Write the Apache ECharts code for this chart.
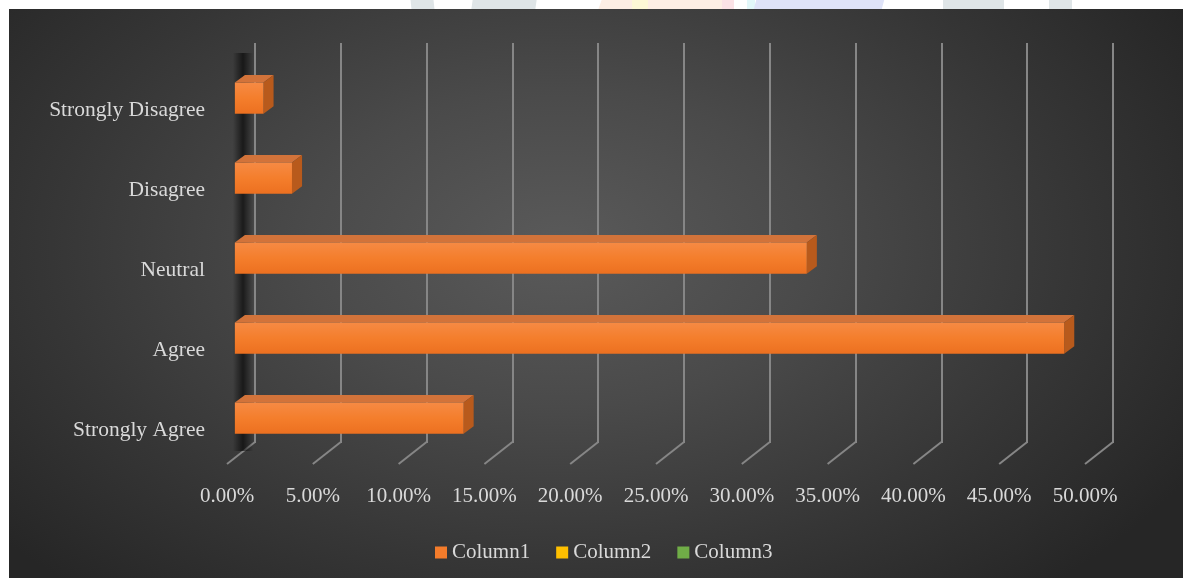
<!DOCTYPE html>
<html>
<head>
<meta charset="utf-8">
<title>Survey responses</title>
<script src="https://cdn.jsdelivr.net/npm/echarts@6/dist/echarts.min.js"></script>
<style>
  html, body { margin: 0; padding: 0; background: #ffffff; overflow: hidden; }
  #page { position: relative; width: 1183px; height: 578px; }
  .strip { position: absolute; top: 0; height: 9px; }
  #chart {
    position: absolute; left: 9px; top: 9px; width: 1174px; height: 569px;
    background: radial-gradient(ellipse 62% 80% at 47% 42%, #5a5a5a 0%, #4a4a4a 35%, #363636 70%, #262626 100%);
  }
</style>
</head>
<body>
<div id="page">
  <!-- faint header decoration -->
  <div class="strip" style="left:411px;width:23px;background:#dfe5e7;transform:skewX(6deg)"></div>
  <div class="strip" style="left:472px;width:64px;background:#dfe5e7;transform:skewX(-8deg)"></div>
  <div class="strip" style="left:600px;width:130px;background:#fdeee4;transform:skewX(-20deg)"></div>
  <div class="strip" style="left:632px;width:16px;background:#fdf8d6"></div>
  <div class="strip" style="left:722px;width:12px;background:#fbe2e6"></div>
  <div class="strip" style="left:747px;width:8px;background:#e2f7f9"></div>
  <div class="strip" style="left:755px;width:128px;background:#dfe3f8;transform:skewX(-15deg)"></div>
  <div class="strip" style="left:943px;width:61px;background:#dfe5e7"></div>
  <div class="strip" style="left:1049px;width:23px;background:#dfe5e7"></div>
  <div id="chart"></div>
</div>
<script>
// Response categories, bottom to top
const categories = ['Strongly Agree', 'Agree', 'Neutral', 'Disagree', 'Strongly Disagree'];
// Share of respondents (%)
const column1 = [13.33, 48.33, 33.33, 3.33, 1.67];
const column2 = [];
const column3 = [];
// Percentage axis ticks
const xTicks = [0, 5, 10, 15, 20, 25, 30, 35, 40, 45, 50];

const seriesNames = ['Column1', 'Column2', 'Column3'];
const seriesColors = ['#f47c2b', '#ffc000', '#70ad47'];

const FONT = 'Liberation Serif';
const TEXT = '#d9d9d9';
const GRIDLINE = '#868686';

// oblique depth of the floor (back wall -> front edge)
const DEPTH_X = -28, DEPTH_Y = 21;
// bar sits between these depth fractions
const BAR_FRONT = 0.72, BAR_BACK = 0.36;

const chart = echarts.init(document.getElementById('chart'), null, { renderer: 'canvas' });

function renderBar(params, api) {
  const v = api.value(0);
  const i = api.value(1);
  const a = api.coord([0, i]);
  const b = api.coord([v, i]);
  const h = api.size([0, 1])[1] * 0.39 / 2;
  const fx = DEPTH_X * BAR_FRONT, fy = DEPTH_Y * BAR_FRONT;
  const bx = DEPTH_X * BAR_BACK, by = DEPTH_Y * BAR_BACK;
  const yc = a[1];
  const children = [];
  if (params.dataIndex === 0) {
    // soft shadow cast along the base wall
    const cs = params.coordSys;
    children.push({
      type: 'rect', z2: -5,
      shape: { x: a[0] - 22, y: cs.y + 10, width: 20, height: cs.height - 2 },
      style: {
        fill: new echarts.graphic.LinearGradient(0, 0, 1, 0, [
          { offset: 0, color: 'rgba(0,0,0,0)' },
          { offset: 0.5, color: 'rgba(0,0,0,0.6)' },
          { offset: 1, color: 'rgba(0,0,0,0)' }
        ])
      }
    });
  }
  children.push({
    type: 'polygon',
    shape: { points: [
      [a[0] + fx, yc + fy - h], [b[0] + fx, yc + fy - h],
      [b[0] + bx, yc + by - h], [a[0] + bx, yc + by - h]
    ] },
    style: { fill: '#d2733a' }
  });
  children.push({
    type: 'polygon',
    shape: { points: [
      [b[0] + fx, yc + fy - h], [b[0] + bx, yc + by - h],
      [b[0] + bx, yc + by + h], [b[0] + fx, yc + fy + h]
    ] },
    style: { fill: '#b85a1c' }
  });
  children.push({
    type: 'rect',
    shape: { x: a[0] + fx, y: yc + fy - h, width: b[0] - a[0], height: 2 * h },
    style: {
      fill: new echarts.graphic.LinearGradient(0, 0, 0, 1, [
        { offset: 0, color: '#f68a44' },
        { offset: 0.5, color: '#f47e2c' },
        { offset: 1, color: '#ec7020' }
      ])
    }
  });
  return { type: 'group', children: children };
}

function renderFloor(params, api) {
  const x = api.coord([api.value(0), 0])[0];
  const cs = params.coordSys;
  const y = cs.y + cs.height;
  return {
    type: 'line',
    shape: { x1: x, y1: y - 1, x2: x + DEPTH_X, y2: y + DEPTH_Y },
    style: { stroke: GRIDLINE, lineWidth: 2 }
  };
}

chart.setOption({
  backgroundColor: 'transparent',
  animation: false,
  textStyle: { fontFamily: FONT },
  grid: { left: 246, right: 70, top: 34, bottom: 135, containLabel: false },
  legend: {
    data: seriesNames,
    left: 421, top: 528,
    icon: 'rect', itemWidth: 12, itemHeight: 12, itemGap: 26,
    textStyle: { color: TEXT, fontSize: 21, fontFamily: FONT }
  },
  xAxis: {
    type: 'value', min: 0, max: 50, interval: 5,
    axisLine: { show: false }, axisTick: { show: false },
    splitLine: { show: true, lineStyle: { color: GRIDLINE, width: 2 } },
    axisLabel: {
      margin: 43, fontFamily: FONT,
      formatter: function (v) { return '{a|' + v.toFixed(2) + '%}'; },
      rich: { a: { color: TEXT, fontSize: 21, fontFamily: FONT, padding: [0, 56, 0, 0] } }
    }
  },
  yAxis: {
    type: 'category', data: categories,
    axisLine: { show: false }, axisTick: { show: false },
    splitLine: { show: false },
    axisLabel: {
      margin: 50, fontFamily: FONT,
      formatter: function (v) { return '{a|' + v + '}'; },
      rich: { a: { color: TEXT, fontSize: 21.5, fontFamily: FONT, padding: [54, 0, 0, 0] } }
    }
  },
  series: [
    {
      name: 'Floor', type: 'custom', silent: true, z: 1,
      renderItem: renderFloor,
      encode: { x: 0, y: 1 },
      data: xTicks.map(function (t) { return [t, 0]; })
    },
    {
      name: seriesNames[0], type: 'custom', z: 3,
      itemStyle: { color: seriesColors[0] },
      renderItem: renderBar,
      encode: { x: 0, y: 1 },
      data: column1.map(function (v, i) { return [v, i]; })
    },
    { name: seriesNames[1], type: 'bar', itemStyle: { color: seriesColors[1] }, data: column2 },
    { name: seriesNames[2], type: 'bar', itemStyle: { color: seriesColors[2] }, data: column3 }
  ]
});
</script>
</body>
</html>
